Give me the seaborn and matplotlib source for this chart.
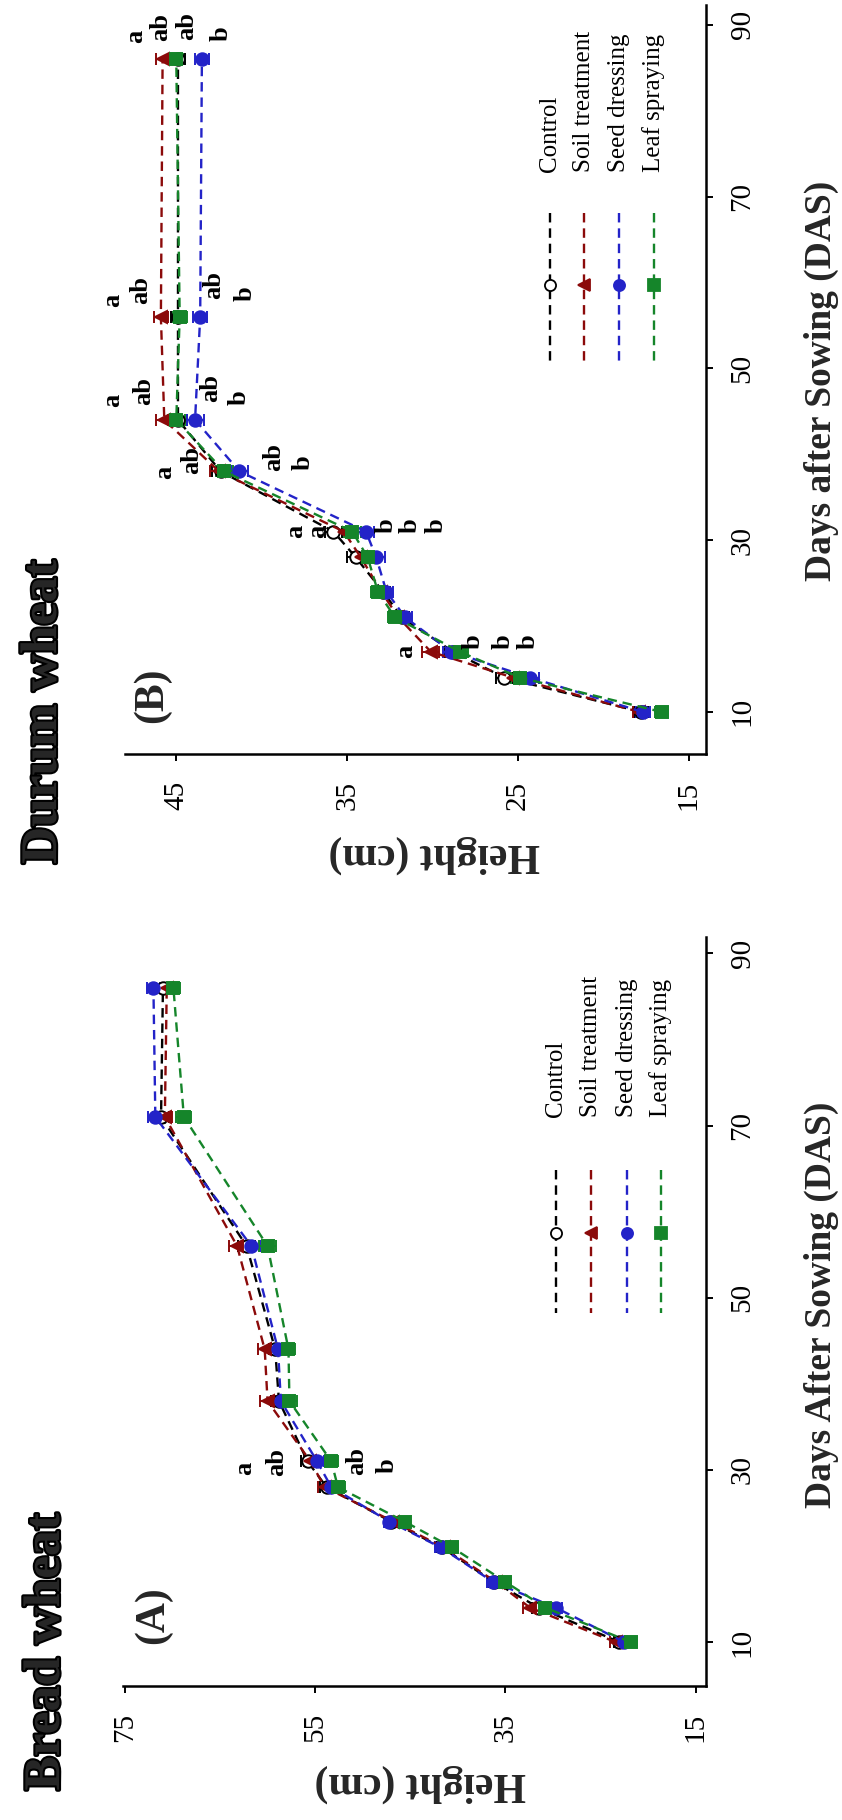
import matplotlib
matplotlib.use("Agg")
import matplotlib.pyplot as plt
import matplotlib.patheffects as pe
from matplotlib.lines import Line2D
import pandas as pd
import seaborn as sns

# ---------------- data ----------------
treatments = ["Control", "Soil treatment", "Seed dressing", "Leaf spraying"]
colors = ["#000000", "#8b0a0a", "#2323c8", "#15852a"]
markers = ["o", "<", "o", "s"]
face_colors = ["white", "#8b0a0a", "#2323c8", "#15852a"]

# Panel A: Bread wheat
days_a = [10, 14, 17, 21, 24, 28, 31, 38, 44, 56, 71, 86]
a_control = [23.0, 31.5, 36.2, 41.7, 47.0, 53.8, 55.8, 58.8, 59.2, 62.2, 71.2, 71.0]
a_soil = [23.4, 32.4, 36.0, 41.5, 46.8, 54.0, 55.5, 60.0, 60.3, 63.2, 70.8, 70.6]
a_seed = [22.5, 29.7, 36.3, 41.8, 47.2, 53.3, 54.8, 58.6, 58.9, 61.7, 71.8, 72.0]
a_leaf = [21.8, 30.8, 35.0, 40.6, 45.6, 52.6, 53.3, 57.7, 57.8, 60.0, 68.8, 69.9]
a_err = [0.6, 0.7, 0.6, 0.6, 0.6, 0.7, 0.7, 0.8, 0.7, 0.9, 0.8, 0.7]

# Panel B: Durum wheat
days_b = [10, 14, 17, 21, 24, 28, 31, 38, 44, 56, 86]
b_control = [17.8, 25.8, 28.8, 31.8, 32.9, 34.5, 35.8, 42.4, 44.9, 44.9, 44.9]
b_soil = [17.9, 25.3, 30.1, 32.0, 33.0, 34.2, 35.2, 42.5, 45.7, 45.9, 45.8]
b_seed = [17.7, 24.3, 28.9, 31.6, 32.7, 33.3, 33.9, 41.3, 43.9, 43.6, 43.5]
b_leaf = [16.6, 24.9, 28.4, 32.2, 33.2, 33.8, 34.7, 42.2, 45.0, 44.8, 45.0]
b_err = [0.4, 0.5, 0.5, 0.4, 0.4, 0.5, 0.5, 0.5, 0.5, 0.4, 0.4]

# significance letters (height, day, text)
a_let_h = [62.4, 59.0, 50.6, 47.4]
a_let_d = [30.2, 30.9, 31.0, 30.5]
a_let_t = ["a", "ab", "ab", "b"]

b_let_h = [31.6, 27.6, 25.9, 24.4,
           38.0, 36.7, 32.7, 31.3, 29.8,
           45.7, 44.1, 39.3, 37.6,
           48.7, 46.9, 43.0, 41.3,
           48.7, 47.1, 42.8, 41.0,
           47.4, 45.9, 44.4, 42.4]
b_let_d = [17.0, 18.2, 18.2, 18.2,
           31.0, 31.0, 31.7, 31.7, 31.7,
           37.9, 39.3, 39.7, 39.0,
           46.3, 47.4, 47.7, 46.6,
           57.9, 59.1, 59.7, 58.7,
           88.7, 89.7, 89.9, 89.0]
b_let_t = ["a", "b", "b", "b",
           "a", "a", "b", "b", "b",
           "a", "ab", "ab", "b",
           "a", "ab", "ab", "b",
           "a", "ab", "ab", "b",
           "a", "ab", "ab", "b"]

# ---------------- style ----------------
sns.set_style("white")
plt.rcParams["font.family"] = ["Liberation Serif", "DejaVu Serif"]

W, H = 842, 1820
fig = plt.figure(figsize=(W / 100, H / 100), dpi=100)


def fx(x):
    return x / W


def fy(y):
    return 1 - y / H


def panel(rect, days, series, err, xlim, ylim, xticks, let_h, let_d, let_t):
    ax = fig.add_axes(rect)
    for vals, c, m, fc, name in zip(series, colors, markers, face_colors, treatments):
        df = pd.DataFrame({"Height": vals, "Days": days})
        ax.errorbar(df["Height"], df["Days"], xerr=err, fmt="none",
                    ecolor=c, elinewidth=1.4, capsize=4, capthick=1.4, zorder=3)
        sns.lineplot(data=df, x="Height", y="Days", orient="y", sort=True,
                     estimator=None, ax=ax, color=c, marker=m, markersize=9,
                     markeredgecolor=c, linewidth=1.7, linestyle="--", zorder=4)
        ln = ax.lines[-1]
        ln.set_dashes([4, 2.5])
        ln.set_markerfacecolor(fc)
        ln.set_markeredgewidth(1.4)
    for h, d, t in zip(let_h, let_d, let_t):
        ax.text(h, d, t, rotation=90, ha="center", va="center",
                fontsize=19, fontweight="bold", color="black", zorder=6)
    ax.set_xlim(*xlim)
    ax.set_ylim(*ylim)
    ax.set_xticks(xticks)
    ax.set_yticks([10, 30, 50, 70, 90])
    ax.set_xlabel("")
    ax.set_ylabel("")
    for s in ["top", "left"]:
        ax.spines[s].set_visible(False)
    for s in ["bottom", "right"]:
        ax.spines[s].set_linewidth(1.8)
        ax.spines[s].set_color("black")
    ax.yaxis.tick_right()
    ax.tick_params(axis="both", direction="out", length=5, width=1.4,
                   color="black", labelsize=21, labelcolor="black")
    ax.tick_params(axis="x", bottom=True, pad=14, labelrotation=90)
    ax.tick_params(axis="y", right=True, left=False, labelright=True,
                   labelleft=False, pad=12, labelrotation=90)
    for lab in ax.get_yticklabels():
        lab.set_va("center")
    ax.grid(False)
    return ax


panel([fx(125), fy(754), (706 - 125) / W, (754 - 5) / H], days_b,
      [b_control, b_soil, b_seed, b_leaf], b_err, (48.0, 14.0), (5.1, 92.3),
      [45, 35, 25, 15], b_let_h, b_let_d, b_let_t)
panel([fx(123), fy(1686), (706 - 123) / W, (1686 - 937) / H], days_a,
      [a_control, a_soil, a_seed, a_leaf], a_err, (75.2, 13.9), (4.9, 91.9),
      [75, 55, 35, 15], a_let_h, a_let_d, a_let_t)


# legends (drawn rotated like the rest of the figure)
def legend(xs, y_top, y_bot, y_mark, y_text):
    for x, c, m, fc, name in zip(xs, colors, markers, face_colors, treatments):
        fig.add_artist(Line2D([fx(x), fx(x)], [fy(y_top), fy(y_bot)],
                              transform=fig.transFigure, color=c, lw=1.7,
                              dashes=[4, 2.5]))
        fig.add_artist(Line2D([fx(x)], [fy(y_mark)], transform=fig.transFigure,
                              marker=m, markersize=8, color=c, markerfacecolor=fc,
                              markeredgecolor=c, markeredgewidth=1.3, ls="none"))
        fig.text(fx(x), fy(y_text), name, rotation=90, ha="center", va="bottom",
                 fontsize=18, color="black")


legend([550, 584, 619, 654], 213, 362, 285, 172)
legend([556, 591, 627, 661], 1170, 1313, 1233, 1117)

# axis labels
fig.text(fx(821), fy(381), "Days after Sowing (DAS)", rotation=90, ha="center",
         va="center", fontsize=27, fontweight="bold")
fig.text(fx(821), fy(1305), "Days After Sowing (DAS)", rotation=90, ha="center",
         va="center", fontsize=27, fontweight="bold")
fig.text(fx(434), fy(854), "Height (cm)", rotation=180, ha="center",
         va="center", fontsize=30, fontweight="bold")
fig.text(fx(420), fy(1783), "Height (cm)", rotation=180, ha="center",
         va="center", fontsize=30, fontweight="bold")

# panel tags and titles
fig.text(fx(152), fy(695), "(B)", rotation=90, ha="center", va="center",
         fontsize=30, fontweight="bold")
fig.text(fx(153), fy(1615), "(A)", rotation=90, ha="center", va="center",
         fontsize=30, fontweight="bold")
stroke = [pe.withStroke(linewidth=3, foreground="black")]
fig.text(fx(44), fy(712), "Durum wheat", rotation=90, ha="center", va="center",
         fontsize=37, fontweight="bold", path_effects=stroke)
fig.text(fx(47), fy(1652), "Bread wheat", rotation=90, ha="center", va="center",
         fontsize=37, fontweight="bold", path_effects=stroke)

fig.savefig("out.png", dpi=100, facecolor="white")
